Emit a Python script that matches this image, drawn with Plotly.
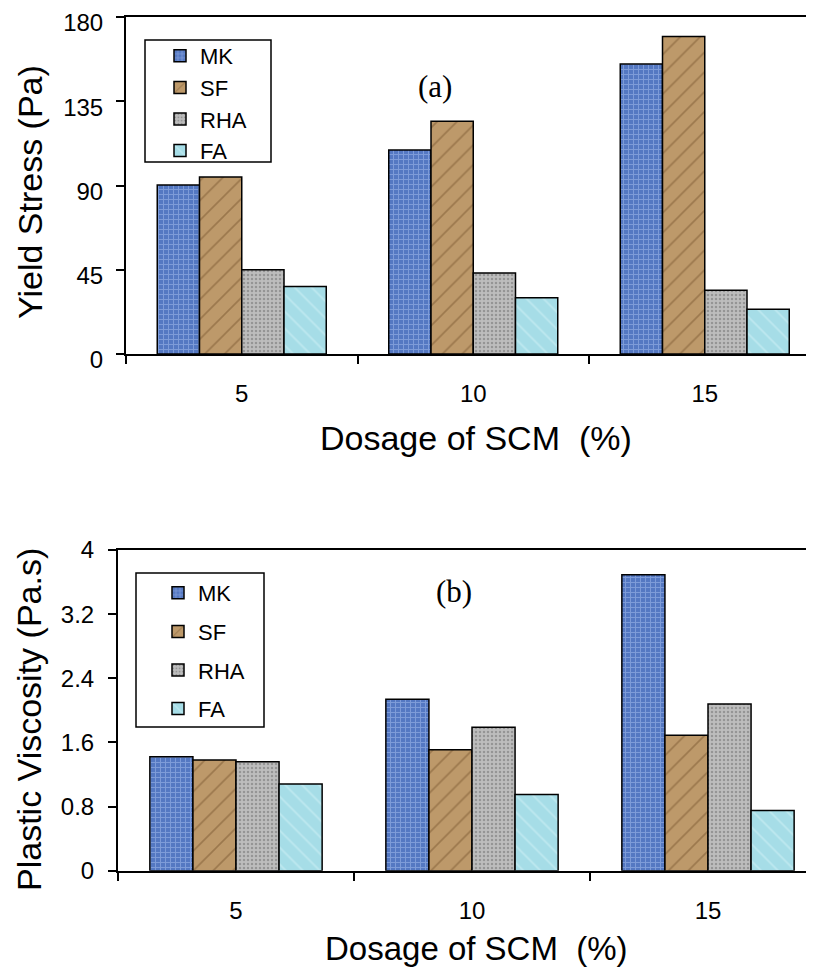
import plotly.graph_objects as go

# page offset (browser body margin) compensation
OFF = 8
W, H = 814 - OFF, 968 - OFF

categories = ["5", "10", "15"]
series_names = ["MK", "SF", "RHA", "FA"]

yield_stress = {
    "MK": [90.3, 109.0, 154.9],
    "SF": [94.5, 124.3, 169.6],
    "RHA": [45.0, 43.2, 34.1],
    "FA": [36.1, 30.1, 23.9],
}
plastic_viscosity = {
    "MK": [1.42, 2.14, 3.69],
    "SF": [1.38, 1.51, 1.69],
    "RHA": [1.36, 1.79, 2.08],
    "FA": [1.08, 0.95, 0.75],
}

yield_ticks = [0, 45, 90, 135, 180]
visc_ticks = [0, 0.8, 1.6, 2.4, 3.2, 4]
visc_ticklabels = ["0", "0.8", "1.6", "2.4", "3.2", "4"]

styles = {
    "MK": dict(color="#5f80c8", pattern=dict(shape="+", fgcolor="#a8c0ee", bgcolor="#5478c2", size=5, solidity=0.35)),
    "SF": dict(color="#b39066", pattern=dict(shape="/", fgcolor="#7a5830", bgcolor="#bd996a", size=14, solidity=0.12)),
    "RHA": dict(color="#b0b0b0", pattern=dict(shape=".", fgcolor="#6c6c6c", bgcolor="#bdbdbd", size=4, solidity=0.3)),
    "FA": dict(color="#ace2ea", pattern=dict(shape="\\", fgcolor="#d6f3f7", bgcolor="#a6dde7", size=12, solidity=0.15)),
}

FONT = "Liberation Sans, Arial, sans-serif"
SERIF = "Liberation Serif, Times New Roman, serif"


def fx(p):
    return (p - OFF) / W


def fy(p):
    return 1 - (p - OFF) / H


fig = go.Figure()

for name in series_names:
    st = styles[name]
    fig.add_trace(go.Bar(
        x=categories, y=yield_stress[name], name=name,
        xaxis="x", yaxis="y", legend="legend", legendgroup="a" + name,
        marker=dict(color=st["color"], pattern=st["pattern"], line=dict(color="black", width=1.5)),
    ))
for name in series_names:
    st = styles[name]
    fig.add_trace(go.Bar(
        x=categories, y=plastic_viscosity[name], name=name,
        xaxis="x2", yaxis="y2", legend="legend2", legendgroup="b" + name,
        marker=dict(color=st["color"], pattern=st["pattern"], line=dict(color="black", width=1.5)),
    ))

# plot-area geometry in reference pixels
top_l, top_t, top_b, top_cw = 126, 17, 354, 231.5
bot_l, bot_t, bot_b, bot_cw = 118, 550, 870.7, 236

axis_common = dict(
    showline=True, linecolor="black", linewidth=2, showgrid=False, zeroline=False,
    ticks="outside", tickcolor="black", ticklen=8, tickwidth=1.5,
    tickfont=dict(family=FONT, size=24, color="black"),
    ticklabeloverflow="allow",
)

fig.update_layout(
    width=W, height=H,
    margin=dict(l=0, r=0, t=0, b=0),
    paper_bgcolor="white", plot_bgcolor="white",
    barmode="group", bargap=0.27, bargroupgap=0,
    xaxis=dict(**axis_common, type="category", categoryorder="array", categoryarray=categories,
               domain=[fx(top_l), 1.0], anchor="y", mirror=True, tickson="boundaries",
               range=[-0.5, -0.5 + (814 - top_l) / top_cw], automargin=False, ticklabelstandoff=17),
    yaxis=dict(**axis_common, domain=[fy(top_b), fy(top_t)], anchor="x", range=[0, 180],
               tickvals=yield_ticks, automargin=False, ticklabelstandoff=8, ticklabelshift=6),
    xaxis2=dict(**axis_common, type="category", categoryorder="array", categoryarray=categories,
                domain=[fx(bot_l), 1.0], anchor="y2", mirror=True, tickson="boundaries",
                range=[-0.5, -0.5 + (814 - bot_l) / bot_cw], automargin=False, ticklabelstandoff=17),
    yaxis2=dict(**axis_common, domain=[fy(bot_b), fy(bot_t)], anchor="x2", range=[0, 4],
                tickvals=visc_ticks, ticktext=visc_ticklabels, automargin=False, ticklabelstandoff=9),
    legend=dict(x=fx(160), y=fy(35), xanchor="left", yanchor="top",
                font=dict(family=FONT, size=22, color="black"), bgcolor="rgba(0,0,0,0)",
                traceorder="grouped", tracegroupgap=0, itemwidth=30),
    legend2=dict(x=fx(158), y=fy(572), xanchor="left", yanchor="top",
                 font=dict(family=FONT, size=22, color="black"), bgcolor="rgba(0,0,0,0)",
                 traceorder="grouped", tracegroupgap=7, itemwidth=30),
    shapes=[
        dict(type="rect", xref="paper", yref="paper", x0=fx(145), x1=fx(271),
             y0=fy(162), y1=fy(40), line=dict(color="black", width=1.5), layer="below"),
        dict(type="rect", xref="paper", yref="paper", x0=fx(136), x1=fx(264),
             y0=fy(727), y1=fy(573), line=dict(color="black", width=1.5), layer="below"),
    ],
    annotations=[
        dict(text="Yield Stress (Pa)", xref="paper", yref="paper", x=fx(30), y=fy(192),
             textangle=-90, showarrow=False, font=dict(family=FONT, size=34, color="black"),
             xanchor="center", yanchor="middle"),
        dict(text="Dosage of SCM&nbsp;&nbsp;(%)", xref="paper", yref="paper", x=fx(476), y=fy(438),
             showarrow=False, font=dict(family=FONT, size=34, color="black"),
             xanchor="center", yanchor="middle"),
        dict(text="Plastic Viscosity (Pa.s)", xref="paper", yref="paper", x=fx(29), y=fy(720),
             textangle=-90, showarrow=False, font=dict(family=FONT, size=34, color="black"),
             xanchor="center", yanchor="middle"),
        dict(text="Dosage of SCM&nbsp;&nbsp;(%)", xref="paper", yref="paper", x=fx(476), y=fy(948),
             showarrow=False, font=dict(family=FONT, size=33, color="black"),
             xanchor="center", yanchor="middle"),
        dict(text="(a)", xref="paper", yref="paper", x=fx(435), y=fy(87),
             showarrow=False, font=dict(family=SERIF, size=31, color="black"),
             xanchor="center", yanchor="middle"),
        dict(text="(b)", xref="paper", yref="paper", x=fx(454), y=fy(591),
             showarrow=False, font=dict(family=SERIF, size=31, color="black"),
             xanchor="center", yanchor="middle"),
    ],
)

fig.write_html("out.html")
